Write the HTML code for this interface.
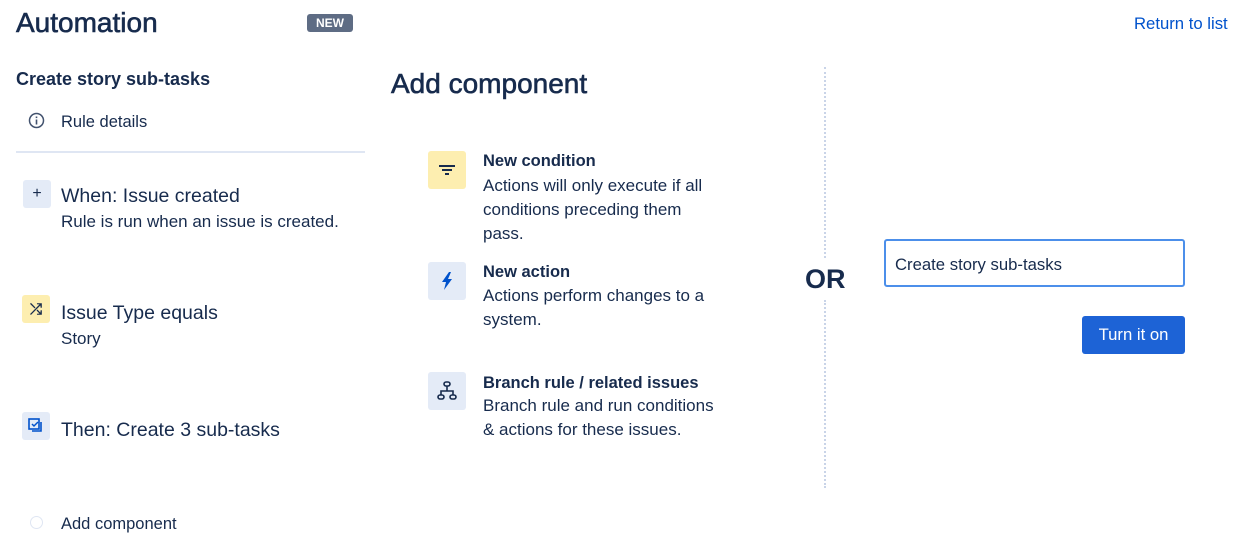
<!DOCTYPE html>
<html><head><meta charset="utf-8"><style>
body{margin:0;width:1244px;height:554px;background:#fff;position:relative;overflow:hidden;font-family:"Liberation Sans",sans-serif;color:#172b4d}
.a{position:absolute;white-space:nowrap}
.h{-webkit-text-stroke:0.6px #172b4d}
.ic{position:absolute;border-radius:3px;display:flex;align-items:center;justify-content:center}
</style></head><body>
<div class="a h" style="left:16px;top:7px;font-size:28px">Automation</div>
<div class="a" style="left:307px;top:14px;width:46px;height:18px;background:#5e6c84;border-radius:3px;color:#fff;font-size:12px;font-weight:bold;text-align:center;line-height:18px">NEW</div>
<div class="a" style="left:1134px;top:14px;font-size:16.7px;color:#0052cc">Return to list</div>

<div class="a" style="left:16px;top:69px;font-size:18px;font-weight:bold">Create story sub-tasks</div>
<svg class="a" style="left:28px;top:112px" width="17" height="17"><circle cx="8.5" cy="8.5" r="7" fill="none" stroke="#42526e" stroke-width="1.5"/><rect x="7.7" y="7.5" width="1.6" height="5" fill="#42526e"/><rect x="7.7" y="4.5" width="1.6" height="1.6" fill="#42526e"/></svg>
<div class="a" style="left:61px;top:113px;font-size:16.5px">Rule details</div>
<div class="a" style="left:16px;top:151px;width:349px;height:2px;background:#dfe6f3"></div>

<div class="ic" style="left:23px;top:180px;width:28px;height:28px;background:#e4ebf7;font-size:16px">+</div>
<div class="a" style="left:61px;top:185px;font-size:19.5px">When: Issue created</div>
<div class="a" style="left:61px;top:212px;font-size:17px">Rule is run when an issue is created.</div>

<div class="ic" style="left:22px;top:295px;width:28px;height:28px;background:#fdeeb0;font-size:15px;font-weight:bold">⤮</div>
<div class="a" style="left:61px;top:302px;font-size:19.5px">Issue Type equals</div>
<div class="a" style="left:61px;top:329px;font-size:17px">Story</div>

<div class="ic" style="left:22px;top:412px;width:28px;height:28px;background:#e4ebf7"><svg width="16" height="16"><rect x="1" y="1" width="10" height="10" fill="none" stroke="#0052cc" stroke-width="1.6"/><path d="M4 6l2 2 4-4" fill="none" stroke="#0052cc" stroke-width="1.5"/><path d="M13 4v9H4" fill="none" stroke="#0052cc" stroke-width="1.6"/></svg></div>
<div class="a" style="left:61px;top:419px;font-size:19.5px">Then: Create 3 sub-tasks</div>

<div class="a" style="left:30px;top:516px;width:11px;height:11px;border:1.5px solid #dfe6f3;border-radius:50%"></div>
<div class="a" style="left:61px;top:515px;font-size:16.5px">Add component</div>

<div class="a h" style="left:391px;top:68px;font-size:28px">Add component</div>

<div class="ic" style="left:428px;top:151px;width:38px;height:38px;background:#fdeeb0"><svg width="16" height="14"><rect x="0" y="2" width="16" height="2" fill="#172b4d"/><rect x="3" y="6" width="10" height="2" fill="#172b4d"/><rect x="6" y="10" width="4" height="2" fill="#172b4d"/></svg></div>
<div class="a" style="left:483px;top:152px;font-size:16.5px;font-weight:bold">New condition</div>
<div class="a" style="left:483px;top:174px;font-size:17px;line-height:24px">Actions will only execute if all<br>conditions preceding them<br>pass.</div>

<div class="ic" style="left:428px;top:262px;width:38px;height:38px;background:#e4ebf7"><svg width="12" height="18"><path d="M8 0L1 10h4l-2 8 8-11H7l3-7z" fill="#0052cc"/></svg></div>
<div class="a" style="left:483px;top:263px;font-size:16.5px;font-weight:bold">New action</div>
<div class="a" style="left:483px;top:284px;font-size:17px;line-height:24px">Actions perform changes to a<br>system.</div>

<div class="ic" style="left:428px;top:372px;width:38px;height:38px;background:#e4ebf7"><svg width="20" height="20" fill="none" stroke="#172b4d" stroke-width="1.6"><rect x="7" y="1" width="6" height="4" rx="2"/><path d="M10 5v5M4 14v-4h12v4"/><rect x="1" y="14" width="6" height="4" rx="2"/><rect x="13" y="14" width="6" height="4" rx="2"/></svg></div>
<div class="a" style="left:483px;top:374px;font-size:16.5px;font-weight:bold">Branch rule / related issues</div>
<div class="a" style="left:483px;top:394px;font-size:17px;line-height:24px">Branch rule and run conditions<br>&amp; actions for these issues.</div>

<div class="a" style="left:824px;top:67px;width:0;height:191px;border-left:2px dotted #c9d4e8"></div>
<div class="a" style="left:824px;top:300px;width:0;height:188px;border-left:2px dotted #c9d4e8"></div>
<div class="a" style="left:805px;top:264px;font-size:27px;font-weight:bold">OR</div>

<div class="a" style="left:884px;top:239px;width:297px;height:44px;border:2px solid #4c8fea;border-radius:3px"></div>
<div class="a" style="left:895px;top:255px;font-size:16.7px">Create story sub-tasks</div>
<div class="a" style="left:1082px;top:316px;width:103px;height:38px;background:#1d63d6;border-radius:3px;color:#fff;font-size:16.7px;text-align:center;line-height:38px">Turn it on</div>
</body></html>
